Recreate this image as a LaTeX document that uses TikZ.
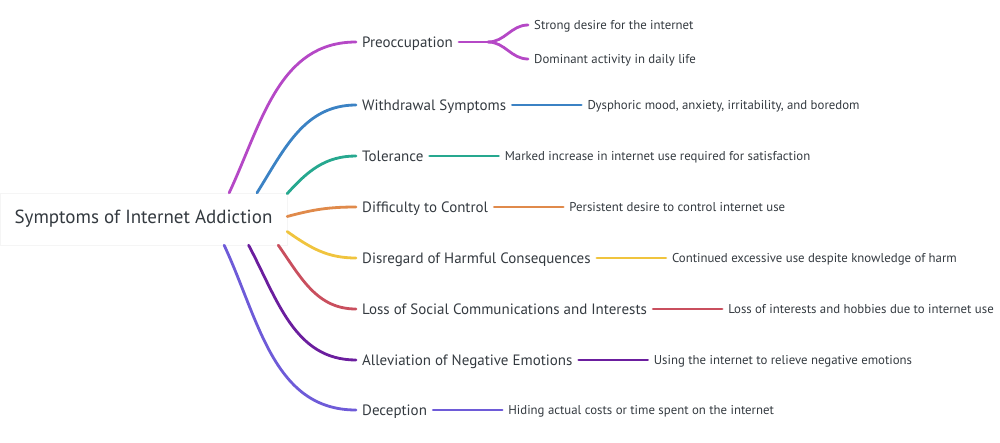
\documentclass[tikz,border=0pt]{standalone}
\usepackage{fontspec}
\setmainfont{PT Sans}
\usetikzlibrary{positioning}

\definecolor{txt}{HTML}{343A40}
\definecolor{cpre}{HTML}{B548C6}
\definecolor{cwith}{HTML}{3B82C4}
\definecolor{ctol}{HTML}{26A88F}
\definecolor{cdiff}{HTML}{E08A4B}
\definecolor{cdis}{HTML}{F0C43E}
\definecolor{closs}{HTML}{C94F5E}
\definecolor{callev}{HTML}{6B1E9E}
\definecolor{cdec}{HTML}{6E5BD8}

\begin{document}
\begin{tikzpicture}[x=1pt, y=-1pt,
    root/.style={rectangle, fill=white, draw=black!4, minimum width=287pt,
        minimum height=52pt, font=\fontsize{19}{22}\selectfont, text=txt},
    topic/.style={anchor=west, inner xsep=6pt, inner ysep=2pt, text depth=0pt,
        font=\fontsize{15}{18}\selectfont, text=txt},
    detail/.style={inner xsep=6pt, inner ysep=2pt, text depth=0pt,
        font=\fontsize{12.8}{15}\selectfont, text=txt},
    branch/.style={line width=2.8pt, line cap=round}]
    \useasboundingbox (0,0) rectangle (1000,442);

    % Nodes
    \node[root] (root) at (143.5,219) {Symptoms of Internet Addiction};

    \node[topic] (pre) at (356,42) {Preoccupation};
    \node[topic] (with) at (356,105) {Withdrawal Symptoms};
    \node[topic] (tol) at (356,156) {Tolerance};
    \node[topic] (diff) at (356,207) {Difficulty to Control};
    \node[topic] (dis) at (356,258) {Disregard of Harmful Consequences};
    \node[topic] (loss) at (356,309) {Loss of Social Communications and Interests};
    \node[topic] (allev) at (356,360) {Alleviation of Negative Emotions};
    \node[topic] (dec) at (356,410) {Deception};

    \coordinate (pre-split) at ([xshift=29pt]pre.east);
    \node[detail, anchor=west] (pre-a) at ([xshift=69pt, yshift=17pt]pre.east) {Strong desire for the internet};
    \node[detail, anchor=west] (pre-b) at ([xshift=69pt, yshift=-17pt]pre.east) {Dominant activity in daily life};
    \node[detail, right=69pt of with] (with-a) {Dysphoric mood, anxiety, irritability, and boredom};
    \node[detail, right=69pt of tol] (tol-a) {Marked increase in internet use required for satisfaction};
    \node[detail, right=69pt of diff] (diff-a) {Persistent desire to control internet use};
    \node[detail, right=69pt of dis] (dis-a) {Continued excessive use despite knowledge of harm};
    \node[detail, right=69pt of loss] (loss-a) {Loss of interests and hobbies due to internet use};
    \node[detail, right=69pt of allev] (allev-a) {Using the internet to relieve negative emotions};
    \node[detail, right=69pt of dec] (dec-a) {Hiding actual costs or time spent on the internet};

    % Branches
    \draw[branch, cpre] (root.17) to[out=65, in=180] (pre.west);
    \draw[branch, cwith] (root.13) to[out=58, in=180] (with.west);
    \draw[branch, ctol] (root.10) to[out=48, in=180] (tol.west);
    \draw[branch, cdiff] (root.1) to[out=15, in=180] (diff.west);
    \draw[branch, cdis] (root.-5) to[out=-35, in=180] (dis.west);
    \draw[branch, closs] (root.-11) to[out=-55, in=180] (loss.west);
    \draw[branch, callev] (root.-14) to[out=-62, in=180] (allev.west);
    \draw[branch, cdec] (root.-18) to[out=-65, in=180] (dec.west);

    \draw[branch, cpre] (pre.east) -- (pre-split);
    \draw[branch, cpre] (pre-split) to[out=0, in=180] (pre-a.west);
    \draw[branch, cpre] (pre-split) to[out=0, in=180] (pre-b.west);
    \draw[branch, cwith] (with.east) -- (with-a.west);
    \draw[branch, ctol] (tol.east) -- (tol-a.west);
    \draw[branch, cdiff] (diff.east) -- (diff-a.west);
    \draw[branch, cdis] (dis.east) -- (dis-a.west);
    \draw[branch, closs] (loss.east) -- (loss-a.west);
    \draw[branch, callev] (allev.east) -- (allev-a.west);
    \draw[branch, cdec] (dec.east) -- (dec-a.west);
\end{tikzpicture}
\end{document}
